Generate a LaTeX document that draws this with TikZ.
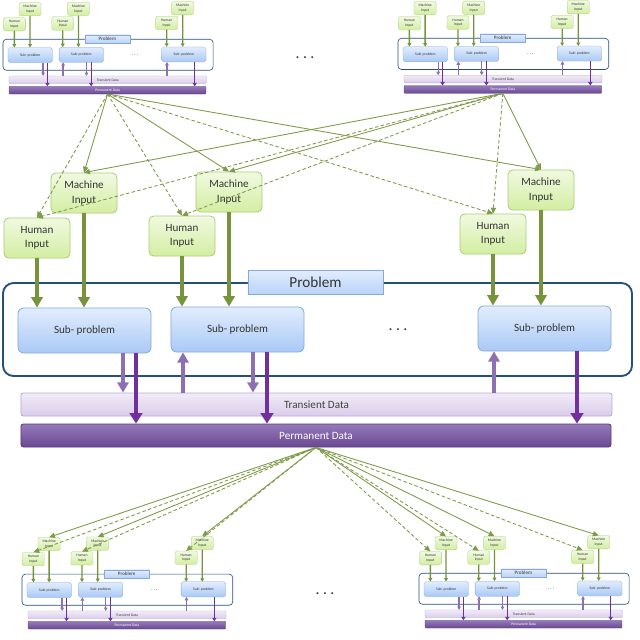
\documentclass[tikz,border=0pt]{standalone}
\usepackage{fontspec}
\setmainfont{Carlito}
\usetikzlibrary{arrows.meta}

\definecolor{inedge}{HTML}{A9CF74}
\definecolor{intop}{HTML}{F1F9E1}
\definecolor{inbot}{HTML}{D3EEA2}
\definecolor{subedge}{HTML}{86A9DC}
\definecolor{subtop}{HTML}{E2EDFD}
\definecolor{subbot}{HTML}{A9C9F6}
\definecolor{frameblue}{HTML}{24507F}
\definecolor{transedge}{HTML}{B9A9CF}
\definecolor{transtop}{HTML}{F2ECF8}
\definecolor{transbot}{HTML}{D9CCE9}
\definecolor{permtop}{HTML}{957AB9}
\definecolor{permbot}{HTML}{6A4993}
\definecolor{permedge}{HTML}{5A3C80}
\definecolor{feedgreen}{HTML}{77933C}
\definecolor{lightpurple}{HTML}{8D70B2}
\definecolor{darkpurple}{HTML}{7030A0}
\definecolor{linkgreen}{HTML}{7F9A48}

\newcommand\unitscale{1}

\tikzset{
  inbox/.style={draw=inedge, line width=0.7pt*\unitscale, top color=intop, bottom color=inbot,
    rounded corners=4pt*\unitscale, minimum width=1.98cm, minimum height=1.2cm, inner sep=0pt,
    align=center, text=black!80, font=\fontsize{9.5}{12}\selectfont},
  subbox/.style={draw=subedge, line width=0.7pt*\unitscale, top color=subtop, bottom color=subbot,
    rounded corners=5pt*\unitscale, minimum width=3.99cm, minimum height=1.35cm, inner sep=0pt,
    text=black!80, font=\fontsize{9.5}{12}\selectfont},
  probbox/.style={draw=subedge, line width=0.7pt*\unitscale, top color=subtop, bottom color=subbot!80,
    minimum width=4.05cm, minimum height=0.72cm, inner sep=0pt,
    text=black!80, font=\fontsize{13}{15}\selectfont},
  framebox/.style={draw=frameblue, line width=1.6pt*\unitscale, fill=white,
    rounded corners=9pt*\unitscale, minimum width=18.87cm, minimum height=2.79cm, inner sep=0pt},
  transbox/.style={draw=transedge, line width=0.7pt*\unitscale, top color=transtop, bottom color=transbot,
    rounded corners=2pt*\unitscale, minimum width=17.73cm, minimum height=0.69cm, inner sep=0pt,
    text=black!75, font=\fontsize{9.5}{12}\selectfont},
  permbox/.style={draw=permedge, line width=0.7pt*\unitscale, top color=permtop, bottom color=permbot,
    rounded corners=2pt*\unitscale, minimum width=17.7cm, minimum height=0.69cm, inner sep=0pt,
    text=white, font=\fontsize{9.5}{12}\selectfont},
  dotsnode/.style={font=\fontsize{11}{12}\selectfont\bfseries, text=black!80},
  feed/.style={draw=feedgreen, line width=3.4pt*\unitscale, -{Triangle[length=0pt 2.6, width=0pt 2.8]}},
  lpur/.style={draw=lightpurple, line width=3.6pt*\unitscale, -{Triangle[length=0pt 2.4, width=0pt 2.6]}},
  dpur/.style={draw=darkpurple, line width=3pt*\unitscale, -{Triangle[length=0pt 3, width=0pt 3.6]}},
  link/.style={draw=linkgreen, line width=0.75pt, -{Triangle[length=5pt, width=4.5pt]}},
  linkdash/.style={link, dash pattern=on 3pt off 2pt},
  unit/.pic={
    \def\unitscale{#1}
    \begin{scope}[scale=#1, transform shape]
      % Problem frame and label
      \node[framebox] (-frame) at (317.5,329.5) {};
      \node[probbox] (-prob) at (315.5,282) {Problem};

      % Inputs
      \node[inbox] (-mach1) at (84,193) {Machine\\Input};
      \node[inbox] (-hum1) at (37,238) {Human\\Input};
      \node[inbox] (-mach2) at (229,192) {Machine\\Input};
      \node[inbox] (-hum2) at (182,236) {Human\\Input};
      \node[inbox] (-mach3) at (541,190) {Machine\\Input};
      \node[inbox] (-hum3) at (493,234) {Human\\Input};

      % Sub-problems
      \node[subbox] (-sp1) at (84.5,330.5) {Sub- problem};
      \node[subbox] (-sp2) at (237.5,329.5) {Sub- problem};
      \node[subbox] (-sp3) at (544.5,328.5) {Sub- problem};
      \node[dotsnode] (-dots) at (398,330) {. . .};

      % Data stores
      \node[transbox] (-trans) at (316.5,404.5) {Transient Data};
      \node[permbox] (-perm) at (316,435.5) {Permanent Data};

      % Inputs into sub-problems
      \draw[feed] (-hum1) -- (-hum1 |- -sp1.north);
      \draw[feed] (-mach1) -- (-mach1 |- -sp1.north);
      \draw[feed] (-hum2) -- (-hum2 |- -sp2.north);
      \draw[feed] (-mach2) -- (-mach2 |- -sp2.north);
      \draw[feed] (-hum3) -- (-hum3 |- -sp3.north);
      \draw[feed] (-mach3) -- (-mach3 |- -sp3.north);

      % Data flows
      \draw[lpur] (123,0 |- -sp1.south) -- (123,0 |- -trans.north);
      \draw[dpur] (136,0 |- -sp1.south) -- (136,0 |- -perm.north);
      \draw[lpur] (183,0 |- -trans.north) -- (183,0 |- -sp2.south);
      \draw[lpur] (253,0 |- -sp2.south) -- (253,0 |- -trans.north);
      \draw[dpur] (267,0 |- -sp2.south) -- (267,0 |- -perm.north);
      \draw[lpur] (494,0 |- -trans.north) -- (494,0 |- -sp3.south);
      \draw[dpur] (577,0 |- -sp3.south) -- (577,0 |- -perm.north);
    \end{scope}
  }
}

\begin{document}
\begin{tikzpicture}[x=0.03cm, y=-0.03cm]
  \useasboundingbox (0,0) rectangle (640,639);

  % Main problem and its smaller copies
  \pic (m) at (0,0) {unit=1};
  \pic (tl) at (2,-55.3) {unit=0.334};
  \pic (tr) at (397,-56.5) {unit=0.335};
  \pic (bl) at (21,479.3) {unit=0.335};
  \pic (br) at (418,478.7) {unit=0.334};
  \node[dotsnode] (topdots) at (305,58) {. . .};
  \node[dotsnode] (botdots) at (325,594) {. . .};

  % Permanent data feeding the inputs
  \foreach \src in {tl,tr}{
    \foreach \i in {1,2,3}{
      \draw[link] (\src-perm.south) -- (m-mach\i.north);
      \draw[linkdash] (\src-perm.south) -- (m-hum\i.north);
    }
  }
  \foreach \dst in {bl,br}{
    \foreach \i in {1,2,3}{
      \draw[link] (m-perm.south) -- (\dst-mach\i.north);
      \draw[linkdash] (m-perm.south) -- (\dst-hum\i.north);
    }
  }
\end{tikzpicture}
\end{document}
